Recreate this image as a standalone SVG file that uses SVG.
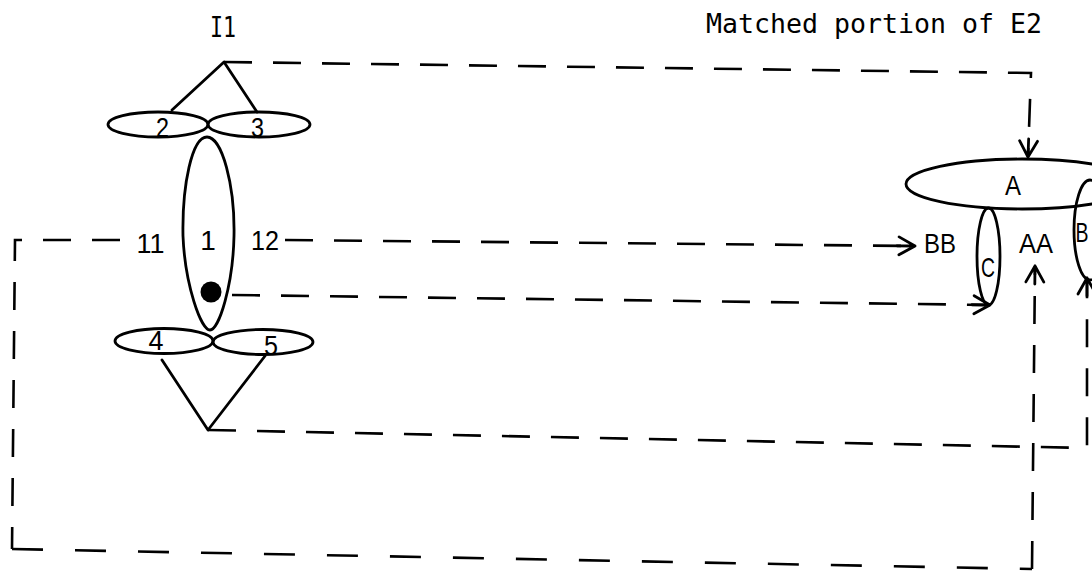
<svg xmlns="http://www.w3.org/2000/svg" width="1092" height="571" viewBox="0 0 1092 571">
  <style>
    .ln{fill:none;stroke:#000;stroke-width:2.8;stroke-linecap:round;stroke-linejoin:round}
    .dash{fill:none;stroke:#000;stroke-width:2.6;stroke-dasharray:28 21}
    .dash-long{fill:none;stroke:#000;stroke-width:2.6;stroke-dasharray:31 32}
    .ttl{font-family:"DejaVu Sans Mono","Liberation Mono",monospace;fill:#000}
    .lbl{font-family:"Liberation Sans",Arial,sans-serif;font-size:28px;fill:#000;text-anchor:middle}
  </style>
  <defs>
    <!-- open arrowhead with a short solid shaft so the tip never falls in a dash gap -->
    <marker id="arr" markerUnits="userSpaceOnUse" markerWidth="20" markerHeight="20" refX="0" refY="0" orient="auto" overflow="visible">
      <path d="M-16,-9 L0,0 L-16,9 M-18,0 L0,0" fill="none" stroke="#000" stroke-width="2.8" stroke-linecap="round" stroke-linejoin="round"/>
    </marker>
  </defs>

  <rect width="1092" height="571" fill="#fff"/>

  <!-- titles -->
  <g id="title-I1">
    <text class="ttl" x="210" y="37" font-size="28" textLength="26" lengthAdjust="spacingAndGlyphs">I1</text>
  </g>
  <g id="title-E2">
    <text class="ttl" x="706" y="33" font-size="26" textLength="336" lengthAdjust="spacingAndGlyphs">Matched portion of E2</text>
  </g>

  <!-- I1 structure -->
  <g id="node-1">
    <path class="ln" d="M207,137 C222,137 235,185 234,236 C233,285 219,330 210,330 C201,330 185,285 183,236 C182,185 192,137 207,137 Z"/>
    <text class="lbl" x="208" y="250">1</text>
  </g>
  <g id="node-2">
    <ellipse class="ln" cx="158" cy="124.5" rx="50" ry="12.5"/>
    <text class="lbl" x="162.5" y="137" textLength="13" lengthAdjust="spacingAndGlyphs">2</text>
  </g>
  <g id="node-3">
    <ellipse class="ln" cx="259" cy="124.5" rx="51" ry="12.5"/>
    <text class="lbl" x="257.5" y="137" textLength="13" lengthAdjust="spacingAndGlyphs">3</text>
  </g>
  <g id="node-4">
    <ellipse class="ln" cx="164" cy="341" rx="49" ry="12.5"/>
    <text class="lbl" x="156" y="350" textLength="15" lengthAdjust="spacingAndGlyphs">4</text>
  </g>
  <g id="node-5">
    <ellipse class="ln" cx="263" cy="342" rx="50" ry="12.5"/>
    <text class="lbl" x="271" y="355" textLength="14" lengthAdjust="spacingAndGlyphs">5</text>
  </g>
  <g id="node-dot">
    <circle cx="211" cy="292" r="10.5" fill="#000"/>
  </g>

  <!-- E2 structure -->
  <g id="node-A">
    <ellipse class="ln" cx="1022" cy="184" rx="116" ry="25"/>
    <text class="lbl" x="1013" y="195" textLength="16" lengthAdjust="spacingAndGlyphs">A</text>
  </g>
  <g id="node-C">
    <ellipse class="ln" cx="988.5" cy="256.5" rx="11.5" ry="48.5"/>
    <text class="lbl" x="988" y="277" textLength="14" lengthAdjust="spacingAndGlyphs">C</text>
  </g>
  <g id="node-B">
    <ellipse class="ln" cx="1090" cy="230" rx="16" ry="50"/>
    <text class="lbl" x="1082" y="242" textLength="13" lengthAdjust="spacingAndGlyphs">B</text>
  </g>

  <!-- connectors -->
  <g id="connectors">
    <polyline class="ln" points="172,110 224,62 257,112"/>
    <polyline class="ln" points="162,360 208,430 265,356"/>

    <path class="dash" d="M224,62 L1031,73 L1028,157" marker-end="url(#arr)"/>
    <path class="dash" d="M285,240 L915,246" marker-end="url(#arr)"/>
    <path class="dash" d="M232,295 L990,305" marker-end="url(#arr)"/>
    <path class="dash" d="M208,430 L1087,448 L1087,278" marker-end="url(#arr)"/>
    <path class="dash" d="M120,240 L15,240 L12,549"/>
    <path class="dash-long" d="M12,549 L1032,569"/>
    <path class="dash" d="M1032,569 L1035,266" marker-end="url(#arr)"/>

    <text class="lbl" x="150.5" y="253" textLength="28" lengthAdjust="spacingAndGlyphs">11</text>
    <text class="lbl" x="265" y="250" textLength="28" lengthAdjust="spacingAndGlyphs">12</text>
    <text class="lbl" x="940" y="253" textLength="32" lengthAdjust="spacingAndGlyphs">BB</text>
    <text class="lbl" x="1036" y="253" textLength="34" lengthAdjust="spacingAndGlyphs">AA</text>
  </g>
</svg>
